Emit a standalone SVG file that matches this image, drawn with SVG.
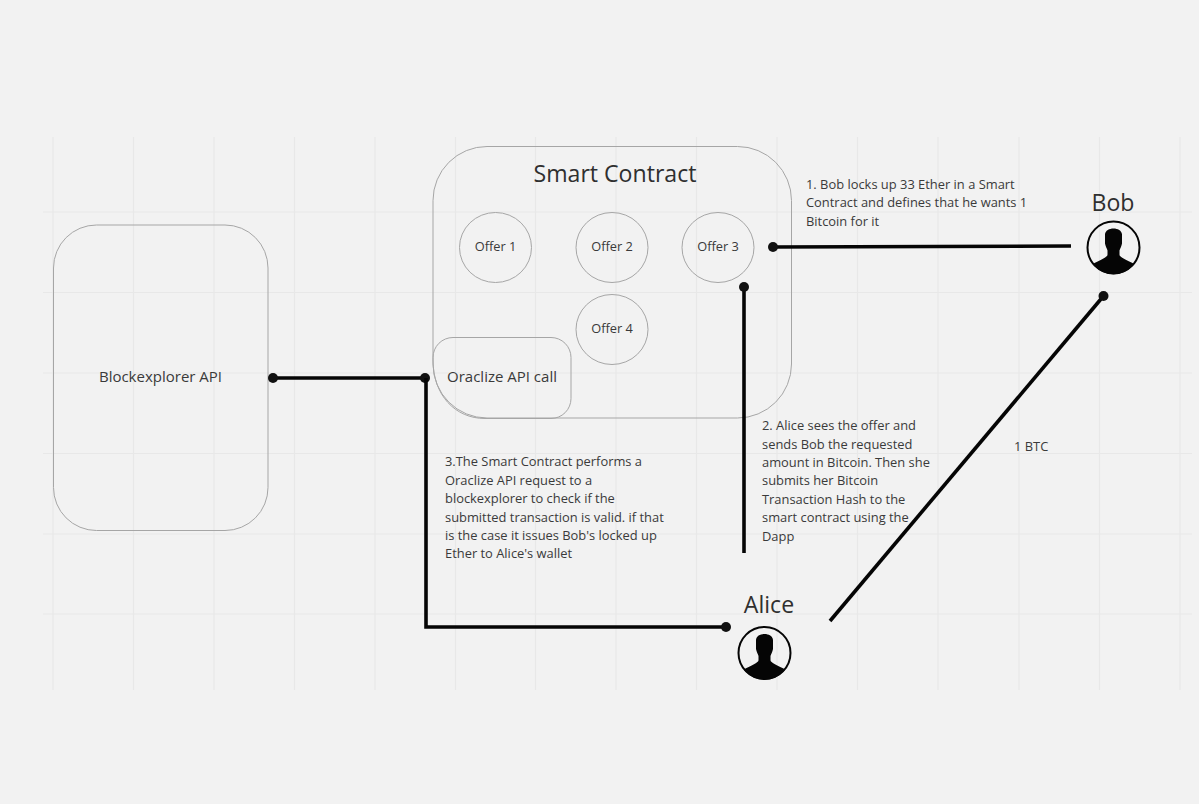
<svg xmlns="http://www.w3.org/2000/svg" xmlns:xlink="http://www.w3.org/1999/xlink" width="1199" height="804" viewBox="0 0 1199 804">
<style>
text{font-family:"Open Sans","Noto Sans",sans-serif;fill:#3a3a3a}
.g{stroke:#e8e8e8;stroke-width:1.2;fill:none}
.s{fill:none;stroke:#a6a6a6;stroke-width:1}
.l{fill:none;stroke:#050505;stroke-width:3.6}
.d{fill:#111}
.t{font-size:12.9px}
.c{font-size:12.8px;text-anchor:middle}
.h{font-size:23.100px;text-anchor:middle;fill:#2f2f2f}
</style>
<defs>
<g id="person">
<circle cx="0" cy="0" r="26" fill="none" stroke="#050505" stroke-width="2"/>
<path d="M-8.500-13C-8-21 8-21 8.500-13L8.500-4C8-1 6.500 1 6 3L6 7C6 9 8 10 19 15.500C21 16.500 21 17 19.500 18A26 26 0 0 1 -19.500 18C-21 17-21 16.500-19 15.500C-8 10-6 9-6 7L-6 3C-6.500 1-8-1-8.500-4Z" fill="#050505"/>
</g>
</defs>
<rect width="1199" height="804" fill="#f2f2f2"/>
<g id="grid">
<path class="g" d="M53 137V690M133.500 137V690M214 137V690M294.500 137V690M375 137V690M455.500 137V690M535.500 137V690M616 137V690M696.500 137V690M777 137V690M857.500 137V690M938 137V690M1019 137V690M1099.500 137V690M1180 137V690"/>
<path class="g" d="M43 212H1192M43 292.500H1192M43 373H1192M43 453.500H1192M43 534H1192M43 614H1192"/>
</g>
<g id="blockexplorer">
<rect class="s" x="53.500" y="225" width="214.500" height="305.500" rx="43" ry="43"/>
<text x="160.500" y="382" class="c" style="font-size:15px">Blockexplorer API</text>
</g>
<g id="smart-contract">
<rect class="s" x="433" y="146.500" width="358.500" height="271.500" rx="54" ry="54"/>
<text x="615" y="181.500" class="h">Smart Contract</text>
</g>
<g id="offer-1"><ellipse class="s" cx="495.500" cy="247.500" rx="36" ry="35"/><text x="495.500" y="251" class="c">Offer 1</text></g>
<g id="offer-2"><ellipse class="s" cx="612" cy="247.500" rx="36" ry="35"/><text x="612" y="251" class="c">Offer 2</text></g>
<g id="offer-3"><ellipse class="s" cx="718" cy="247.500" rx="36" ry="35"/><text x="718" y="251" class="c">Offer 3</text></g>
<g id="offer-4"><ellipse class="s" cx="612" cy="329.500" rx="36" ry="35"/><text x="612" y="333" class="c">Offer 4</text></g>
<g id="oracle">
<path class="s" d="M453 337.500H551A20 20 0 0 1 571 357.500V398.500A20 20 0 0 1 551 418.500H485C455 418.500 433 395 433 360V357.500A20 20 0 0 1 453 337.500Z"/>
<text x="502" y="381.500" class="c" style="font-size:15px">Oraclize API call</text>
</g>
<g id="bob">
<text x="1113" y="211" class="h">Bob</text>
<use xlink:href="#person" href="#person" x="1113.500" y="247.500"/>
</g>
<g id="alice">
<text x="769" y="612.500" class="h">Alice</text>
<use xlink:href="#person" href="#person" x="764.500" y="653"/>
</g>
<g id="connectors">
<path class="l" d="M773 247L1071 246"/><circle class="d" cx="773" cy="247" r="5"/>
<path class="l" d="M744 553V287"/><circle class="d" cx="744" cy="287" r="5"/>
<path class="l" d="M830 621L1103.500 296"/><circle class="d" cx="1103.500" cy="296" r="5"/>
<path class="l" d="M273 378H425"/><circle class="d" cx="273" cy="378" r="5"/><circle class="d" cx="425" cy="378" r="5"/>
<path class="l" d="M426 378V627H726"/><circle class="d" cx="726" cy="627" r="5"/>
</g>
<g id="labels">
<text class="t" x="806" y="189">1. Bob locks up 33 Ether in a Smart</text>
<text class="t" x="806" y="207">Contract and defines that he wants 1</text>
<text class="t" x="806" y="226">Bitcoin for it</text>
<text class="t" x="762" y="430">2. Alice sees the offer and</text>
<text class="t" x="762" y="449">sends Bob the requested</text>
<text class="t" x="762" y="467">amount in Bitcoin. Then she</text>
<text class="t" x="762" y="485">submits her Bitcoin</text>
<text class="t" x="762" y="504">Transaction Hash to the</text>
<text class="t" x="762" y="522">smart contract using the</text>
<text class="t" x="762" y="541">Dapp</text>
<text class="t" x="445" y="466">3.The Smart Contract performs a</text>
<text class="t" x="445" y="485">Oraclize API request to a</text>
<text class="t" x="445" y="503">blockexplorer to check if the</text>
<text class="t" x="445" y="522">submitted transaction is valid. if that</text>
<text class="t" x="445" y="540">is the case it issues Bob's locked up</text>
<text class="t" x="445" y="558">Ether to Alice's wallet</text>
<text class="t" x="1014" y="451">1 BTC</text>
</g>
</svg>
